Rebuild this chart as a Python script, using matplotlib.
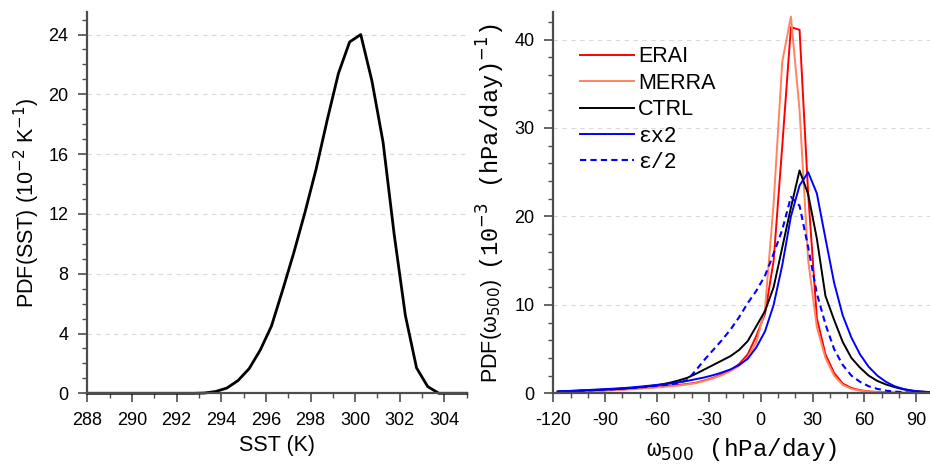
import numpy as np
import matplotlib
matplotlib.use("Agg")
import matplotlib.pyplot as plt
from matplotlib.ticker import MultipleLocator

plt.rcParams['font.family'] = ['Liberation Sans', 'DejaVu Sans']
plt.rcParams['axes.unicode_minus'] = False

# left panel: SST pdf (10^-2 K^-1)
sst = [288.0, 289.0, 290.0, 291.0, 292.0, 292.75, 293.25, 293.75, 294.25, 294.75,
       295.25, 295.75, 296.25, 296.75, 297.25, 297.75, 298.25, 298.75, 299.25,
       299.75, 300.25, 300.75, 301.25, 301.75, 302.25, 302.75, 303.25, 303.75,
       304.25, 305.0]
pdf_sst = [0, 0, 0, 0, 0, 0, 0.02, 0.12, 0.35, 0.85,
           1.65, 2.9, 4.5, 6.9, 9.4, 12.1, 15.0, 18.3, 21.4,
           23.5, 24.0, 20.9, 16.8, 10.6, 5.2, 1.7, 0.45, 0,
           0, 0]

# right panel: omega500 pdf (10^-3 (hPa/day)^-1)
omega = [-117.5, -112.5, -107.5, -102.5, -97.5, -92.5, -87.5, -82.5, -77.5, -72.5,
         -67.5, -62.5, -57.5, -52.5, -47.5, -42.5, -37.5, -32.5, -27.5, -22.5,
         -17.5, -12.5, -7.5, -2.5, 2.5, 7.5, 12.5, 17.5, 22.5, 27.5,
         32.5, 37.5, 42.5, 47.5, 52.5, 57.5, 62.5, 67.5, 72.5, 77.5,
         82.5, 87.5, 92.5, 97.5]
erai = [0.15, 0.2, 0.22, 0.25, 0.3, 0.33, 0.37, 0.42, 0.48, 0.55,
        0.62, 0.7, 0.78, 0.86, 0.95, 1.05, 1.2, 1.45, 1.75, 2.15,
        2.6, 3.3, 4.4, 6.5, 9.0, 15.0, 28.0, 41.4, 41.1, 22.5,
        8.5, 4.4, 2.3, 1.1, 0.6, 0.35, 0.22, 0.15, 0.1, 0.08,
        0.06, 0.05, 0.04, 0.03]
merra = [0.12, 0.15, 0.18, 0.2, 0.24, 0.28, 0.32, 0.36, 0.42, 0.48,
         0.55, 0.62, 0.7, 0.78, 0.88, 1.0, 1.15, 1.4, 1.7, 2.05,
         2.5, 3.1, 4.1, 5.8, 9.5, 21.5, 37.5, 42.6, 32.0, 15.0,
         7.5, 4.0, 2.0, 0.95, 0.5, 0.3, 0.2, 0.13, 0.09, 0.07,
         0.05, 0.04, 0.03, 0.03]
ctrl = [0.2, 0.24, 0.28, 0.32, 0.36, 0.4, 0.45, 0.5, 0.56, 0.64,
        0.74, 0.86, 1.0, 1.2, 1.45, 1.75, 2.2, 2.7, 3.2, 3.7,
        4.2, 4.9, 5.9, 7.6, 9.3, 12.0, 16.5, 21.0, 25.2, 22.5,
        17.5, 11.0, 8.3, 5.8, 4.0, 2.9, 2.0, 1.4, 1.0, 0.7,
        0.45, 0.3, 0.2, 0.12]
eps_x2 = [0.2, 0.25, 0.3, 0.35, 0.4, 0.45, 0.5, 0.56, 0.62, 0.7,
          0.8, 0.9, 1.0, 1.1, 1.25, 1.4, 1.6, 1.8, 2.05, 2.35,
          2.7, 3.2, 3.9, 5.2, 7.0, 10.0, 14.5, 20.0, 23.5, 25.0,
          22.6, 17.5, 12.5, 8.8, 6.3, 4.4, 3.0, 2.0, 1.3, 0.8,
          0.5, 0.3, 0.2, 0.15]
eps_half = [0.18, 0.22, 0.26, 0.3, 0.34, 0.38, 0.42, 0.48, 0.55, 0.62,
            0.7, 0.8, 0.9, 1.0, 1.15, 1.5, 2.6, 3.8, 4.9, 6.0,
            7.2, 8.6, 10.2, 11.6, 13.3, 15.8, 18.5, 22.2, 21.2, 16.5,
            11.3, 7.8, 5.0, 3.2, 2.0, 1.3, 0.8, 0.5, 0.3, 0.2,
            0.12, 0.08, 0.05, 0.04]

series = [
    ('ERAI', erai, '#ff0000', '-'),
    ('MERRA', merra, '#ff8462', '-'),
    ('CTRL', ctrl, '#000000', '-'),
    ('\u03b5x2', eps_x2, '#0000ff', '-'),
    ('\u03b5/2', eps_half, '#0000ff', '--'),
]

axis_col = '#4d4d4d'
mono = ['Liberation Mono', 'DejaVu Sans Mono']


def style_axes(ax):
    for side in ('top', 'right'):
        ax.spines[side].set_visible(False)
    for side in ('left', 'bottom'):
        ax.spines[side].set_color(axis_col)
        ax.spines[side].set_linewidth(1.6)
    ax.tick_params(which='major', direction='out', length=6.5, width=1.2,
                   color=axis_col, labelsize=13, pad=7)
    ax.tick_params(which='minor', direction='out', length=3.5, width=1.0,
                   color=axis_col)
    ax.yaxis.grid(True, which='major', color='#d9d9d9', linestyle=(0, (4, 4)),
                  linewidth=0.8)
    ax.set_axisbelow(True)


fig = plt.figure(figsize=(9.3, 4.66), dpi=100)
ax1 = fig.add_axes([0.0939, 0.156, 0.408, 0.818])
ax2 = fig.add_axes([0.595, 0.156, 0.405, 0.818])

# SST panel
ax1.plot(sst, pdf_sst, color='black', lw=2.0, clip_on=False)
ax1.set_xlim(288, 305)
ax1.set_ylim(0, 25.5)
ax1.xaxis.set_major_locator(MultipleLocator(2))
ax1.xaxis.set_minor_locator(MultipleLocator(1))
ax1.yaxis.set_major_locator(MultipleLocator(4))
ax1.yaxis.set_minor_locator(MultipleLocator(1))
style_axes(ax1)
ax1.set_xlabel('SST (K)', fontsize=15.5, labelpad=4)
ax1.set_ylabel('PDF(SST) (10$^{-2}$ K$^{-1}$)', fontsize=15.5)
ax1.yaxis.set_label_coords(-0.12, 0.5)

# omega panel
for name, vals, col, ls in series:
    if ls == '--':
        ax2.plot(omega, vals, color=col, lw=1.5, dashes=(3, 2), label=name)
    else:
        ax2.plot(omega, vals, color=col, lw=1.4, label=name)
ax2.set_xlim(-120, 98)
ax2.set_ylim(0, 43.1)
ax2.xaxis.set_major_locator(MultipleLocator(30))
ax2.xaxis.set_minor_locator(MultipleLocator(10))
ax2.yaxis.set_major_locator(MultipleLocator(10))
ax2.yaxis.set_minor_locator(MultipleLocator(2))
style_axes(ax2)
ax2.set_xlabel('\u03c9$_{500}$ (hPa/day)', fontsize=17.5, family=mono, labelpad=5)

fig.text(0.528, 0.178, 'PDF(\u03c9$_{500}$)', rotation=90, fontsize=15.5,
         ha='center', va='bottom')
fig.text(0.528, 0.951, '(10$^{-3}$ (hPa/day)$^{-1}$)', rotation=90, fontsize=17,
         ha='center', va='top', family=mono)

leg = ax2.legend(loc='upper left', bbox_to_anchor=(0.071, 0.91), frameon=False,
                 fontsize=15.5, handlelength=2.5, handletextpad=0.2,
                 labelspacing=0.25, borderpad=0, borderaxespad=0)
for t in leg.get_texts()[3:]:
    t.set_fontfamily(mono)

fig.savefig('out.png', dpi=100)
